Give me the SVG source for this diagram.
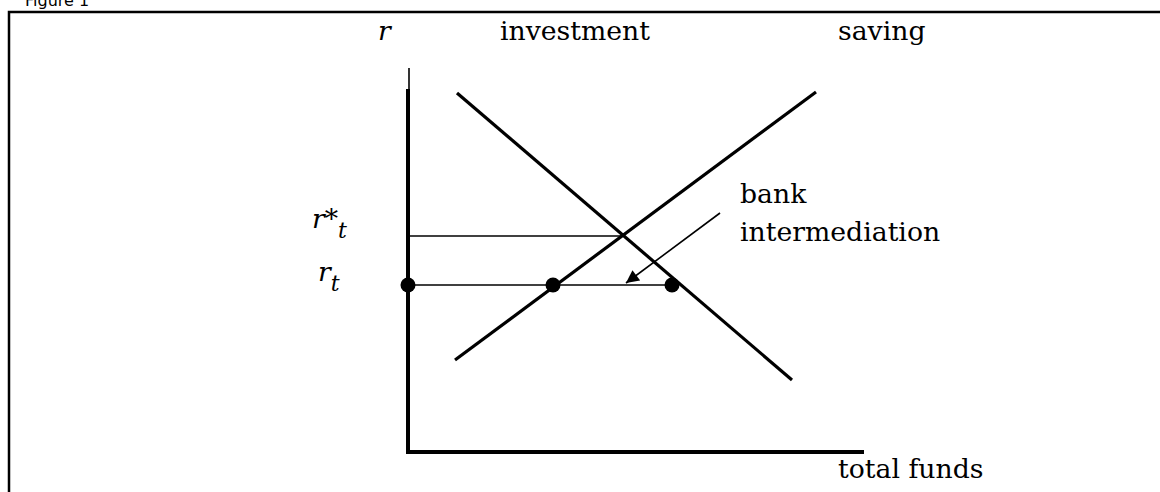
<svg xmlns="http://www.w3.org/2000/svg" width="1160" height="492" viewBox="0 0 1160 492">
<style>
.lbl{font-family:"DejaVu Serif","Liberation Serif",serif;font-size:26.7px;fill:#000}
.it{font-style:italic}
.thick{stroke:#000;stroke-width:4;fill:none}
.curve{stroke:#000;stroke-width:3.2;fill:none}
.thin{stroke:#000;stroke-width:1.6;fill:none}
.dot{fill:#000}
</style>
<defs>
<marker id="ah" viewBox="0 0 10 10" refX="10" refY="5" markerWidth="9" markerHeight="8" markerUnits="strokeWidth" orient="auto">
<path d="M0,0 L10,5 L0,10 z" fill="#000"/>
</marker>
</defs>
<rect width="1160" height="492" fill="#fff"/>
<text x="25" y="6" font-family="DejaVu Sans, Verdana, sans-serif" font-size="16">Figure 1</text>
<rect x="9" y="12" width="1160" height="500" fill="none" stroke="#000" stroke-width="2.5"/>
<g id="axes">
<line class="thin" x1="409" y1="68" x2="409" y2="90"/>
<line class="thick" x1="408" y1="89" x2="408" y2="454"/>
<line class="thick" x1="406" y1="452" x2="864" y2="452"/>
<text class="lbl it" x="378" y="40" font-size="28">r</text>
<text class="lbl" x="838" y="478">total funds</text>
</g>
<g id="investment">
<line class="curve" x1="457" y1="93" x2="792" y2="380"/>
<text class="lbl" x="500" y="40">investment</text>
</g>
<g id="saving">
<line class="curve" x1="455" y1="360" x2="816" y2="92"/>
<text class="lbl" x="838" y="40">saving</text>
</g>
<g id="rstar">
<text class="lbl it" x="312" y="228" font-size="28">r*<tspan font-size="22" dy="10">t</tspan></text>
</g>
<g id="rt">
<text class="lbl it" x="318" y="281" font-size="28">r<tspan font-size="22" dy="10">t</tspan></text>
</g>
<g id="bank-label">
<text class="lbl" x="740" y="203">bank</text>
<text class="lbl" x="740" y="241">intermediation</text>
</g>
<g id="connectors">
<line class="thin" x1="409" y1="236" x2="622" y2="236"/>
<line class="thin" x1="408" y1="285" x2="672" y2="285"/>
<line class="thin" x1="720" y1="213" x2="626" y2="283" marker-end="url(#ah)"/>
</g>
<g id="dots">
<circle class="dot" cx="408" cy="285" r="7.5"/>
<circle class="dot" cx="553" cy="285" r="7.5"/>
<circle class="dot" cx="672" cy="285" r="7.5"/>
</g>
</svg>
